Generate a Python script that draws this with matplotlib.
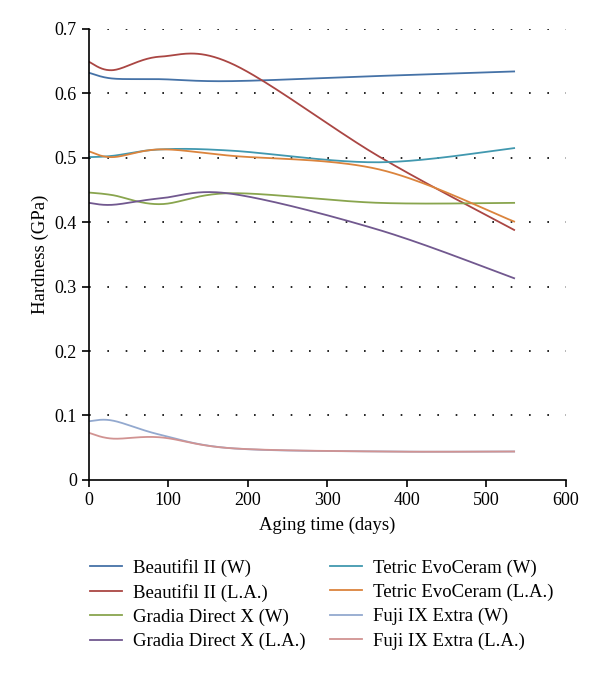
import numpy as np
import matplotlib
matplotlib.use("Agg")
import matplotlib.pyplot as plt

# aging time points (days)
days = [0, 30, 90, 180, 365, 535]

beautifil_w = [0.632, 0.623, 0.622, 0.619, 0.627, 0.634]
beautifil_la = [0.649, 0.636, 0.657, 0.646, 0.502, 0.388]
gradia_w = [0.446, 0.442, 0.428, 0.445, 0.430, 0.430]
gradia_la = [0.430, 0.427, 0.437, 0.444, 0.388, 0.313]
tetric_w = [0.501, 0.503, 0.513, 0.511, 0.493, 0.515]
tetric_la = [0.510, 0.501, 0.513, 0.503, 0.482, 0.401]
fuji_w = [0.091, 0.092, 0.070, 0.049, 0.044, 0.044]
fuji_la = [0.073, 0.064, 0.066, 0.049, 0.044, 0.044]

series = [
    ("Beautifil II (W)", beautifil_w, "#4572A7"),
    ("Beautifil II (L.A.)", beautifil_la, "#AA4643"),
    ("Gradia Direct X (W)", gradia_w, "#89A54E"),
    ("Gradia Direct X (L.A.)", gradia_la, "#71588F"),
    ("Tetric EvoCeram (W)", tetric_w, "#4198AF"),
    ("Tetric EvoCeram (L.A.)", tetric_la, "#DB843D"),
    ("Fuji IX Extra (W)", fuji_w, "#93A9CF"),
    ("Fuji IX Extra (L.A.)", fuji_la, "#D19392"),
]


def smooth(x, y, n=40):
    # spreadsheet style smoothed line (bezier through the points)
    p = np.column_stack([x, y]).astype(float)
    out = []
    for i in range(len(p) - 1):
        p0 = p[i - 1] if i > 0 else p[i]
        p3 = p[i + 2] if i + 2 < len(p) else p[i + 1]
        c1 = p[i] + (p[i + 1] - p0) / 6
        c2 = p[i + 1] - (p3 - p[i]) / 6
        t = np.linspace(0, 1, n)[:, None]
        seg = ((1 - t) ** 3) * p[i] + 3 * ((1 - t) ** 2) * t * c1 \
            + 3 * (1 - t) * t ** 2 * c2 + t ** 3 * p[i + 1]
        out.append(seg)
    out = np.vstack(out)
    return out[:, 0], out[:, 1]


plt.rcParams['font.family'] = ['Liberation Serif', 'DejaVu Serif']

fig = plt.figure(figsize=(6, 6.73), dpi=100)
ax = fig.add_axes([0.148, 0.287, 0.795, 0.670])

for name, vals, col in series:
    sx, sy = smooth(days, vals)
    ax.plot(sx, sy, color=col, lw=1.3, label=name)

ax.set_xlim(0, 600)
ax.set_ylim(0, 0.7)
ax.set_xticks(range(0, 601, 100))
ax.set_yticks(np.arange(0, 0.71, 0.1))
ax.set_yticklabels(["0", "0.1", "0.2", "0.3", "0.4", "0.5", "0.6", "0.7"])
for v in np.arange(0.1, 0.71, 0.1):
    ax.axhline(v, color="black", lw=1.2, ls=(0, (1, 10)), zorder=0)
ax.spines['top'].set_visible(False)
ax.spines['right'].set_visible(False)
ax.spines['left'].set_linewidth(1.2)
ax.spines['bottom'].set_linewidth(1.2)
ax.tick_params(direction='out', length=5, width=1.2, labelsize=13)
ax.set_xlabel("Aging time (days)", fontsize=13.5, labelpad=6)
ax.set_ylabel("Hardness (GPa)", fontsize=13.5)

fig.legend(loc='upper left', bbox_to_anchor=(0.15, 0.170), ncol=2,
           frameon=False, fontsize=13.5, handlelength=1.7, handletextpad=0.6,
           columnspacing=1.3, labelspacing=0.38, borderpad=0, borderaxespad=0)

fig.savefig("out.png", dpi=100)
